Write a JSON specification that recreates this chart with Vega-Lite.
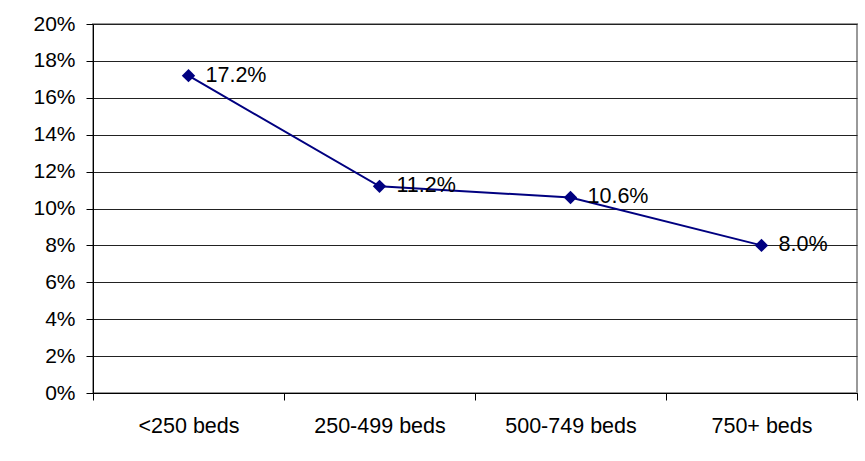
{
  "$schema": "https://vega.github.io/schema/vega-lite/v6.json",
  "autosize": "none",
  "width": 764,
  "height": 369,
  "padding": {"left": 93, "top": 24, "right": 8, "bottom": 68},
  "background": "white",
  "data": {"values": [
    {"beds": "<250 beds", "pct": 0.172},
    {"beds": "250-499 beds", "pct": 0.112},
    {"beds": "500-749 beds", "pct": 0.106},
    {"beds": "750+ beds", "pct": 0.080}
  ]},
  "encoding": {
    "x": {"field": "beds", "type": "nominal", "sort": null,
      "scale": {"paddingInner": 0, "paddingOuter": 0},
      "axis": {"title": null, "labelAngle": 0, "tickBand": "extent", "grid": false,
        "domainColor": "#000", "tickColor": "#000", "tickSize": 7,
        "labelFontSize": 21.5, "labelPadding": 15, "labelColor": "#000", "labelFont": "Liberation Sans"}},
    "y": {"field": "pct", "type": "quantitative",
      "scale": {"domain": [0, 0.2], "nice": false},
      "axis": {"title": null, "format": ".0%", "values": [0,0.02,0.04,0.06,0.08,0.1,0.12,0.14,0.16,0.18,0.2],
        "grid": true, "gridColor": "#222", "gridOpacity": 1, "gridWidth": 1,
        "domainColor": "#000", "tickColor": "#000", "tickSize": 7,
        "labelFontSize": 21, "labelPadding": 11, "labelColor": "#000", "labelFont": "Liberation Sans"}}
  },
  "layer": [
    {"mark": {"type": "line", "color": "#000080", "strokeWidth": 2}},
    {"mark": {"type": "point", "shape": "diamond", "filled": true, "color": "#000080", "size": 180, "opacity": 1}},
    {"mark": {"type": "text", "align": "left", "baseline": "middle", "dx": 17, "fontSize": 21.5, "font": "Liberation Sans", "color": "#000"},
      "encoding": {"text": {"field": "pct", "type": "quantitative", "format": ".1%"}}}
  ],
  "config": {
    "view": {"stroke": "#999", "strokeWidth": 2}
  }
}
